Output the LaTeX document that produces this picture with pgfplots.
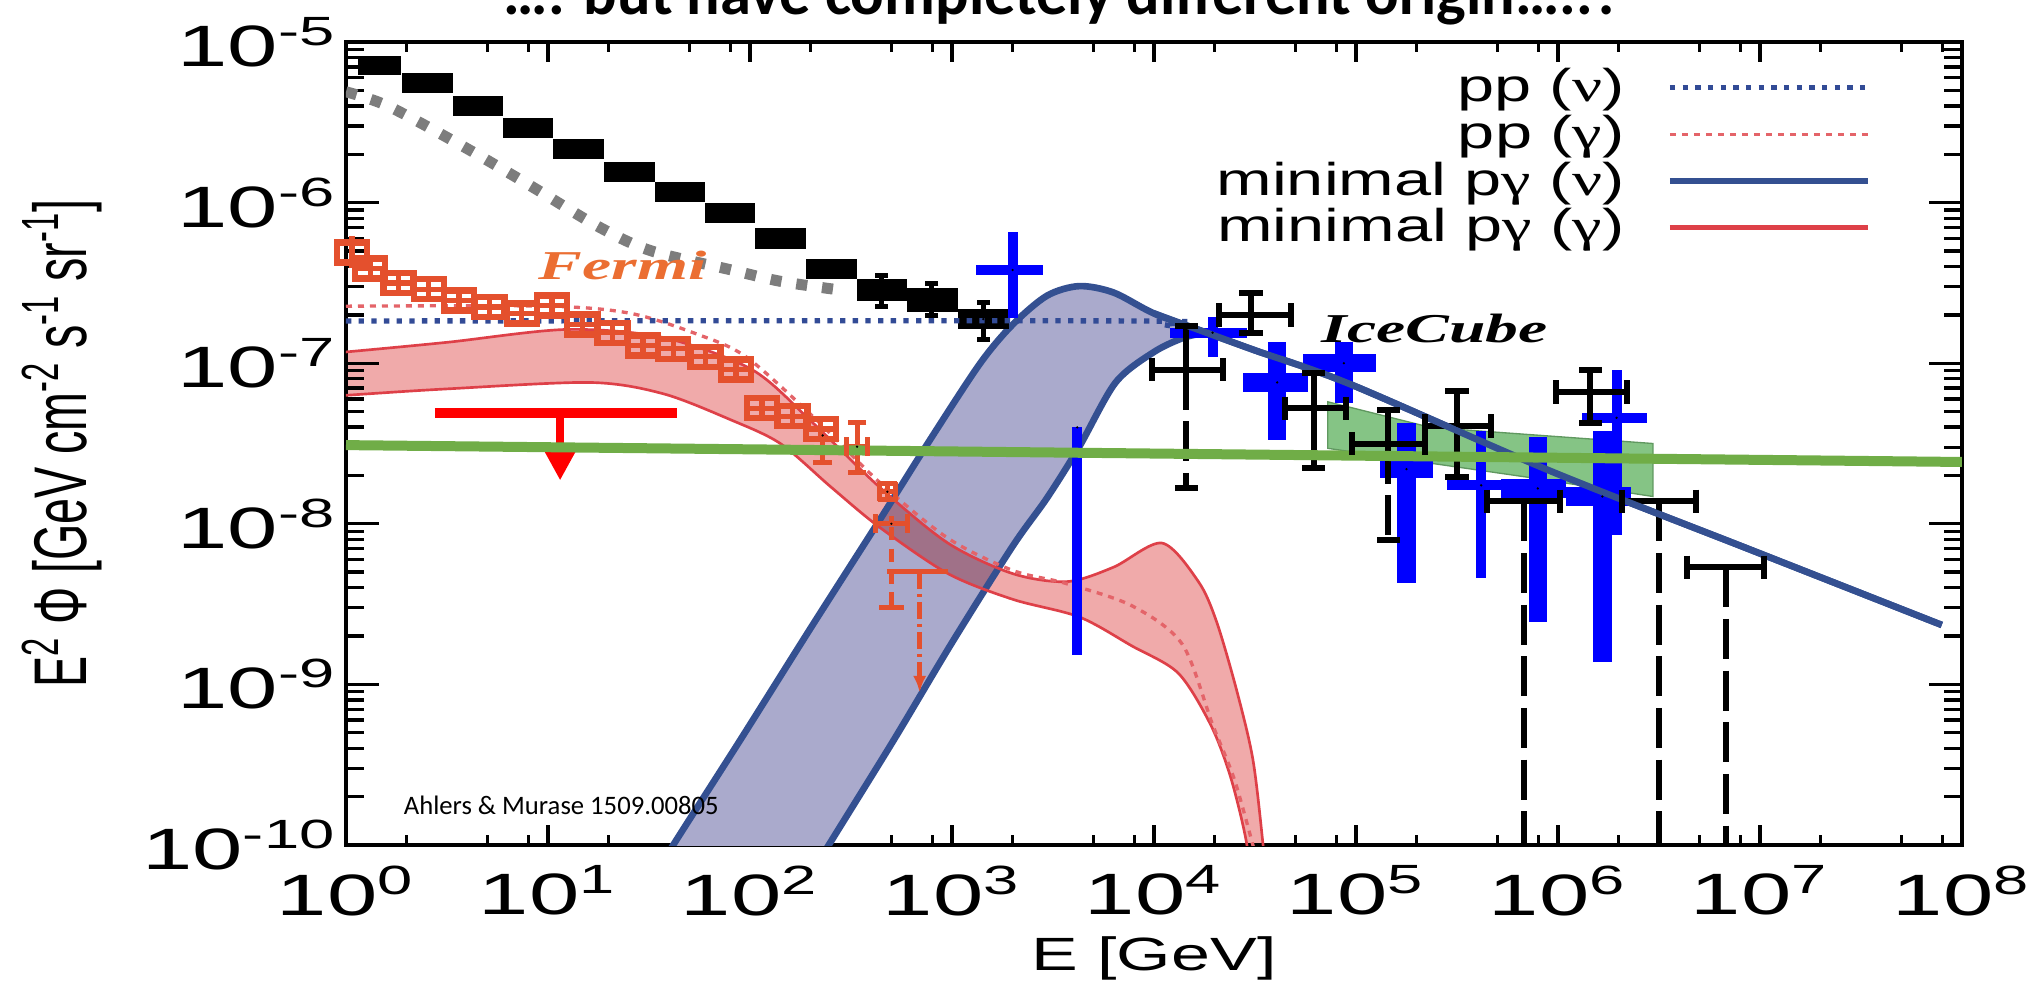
\documentclass[border=0pt]{standalone}
\usepackage{fontspec}
\setmainfont{Liberation Sans}
\newfontfamily\carlito{Carlito}
\newfontfamily\timesf{Liberation Serif}
\usepackage{graphicx}
\usepackage{pgfplots}
\pgfplotsset{compat=1.18}
\usetikzlibrary{arrows.meta}
\newcommand{\sx}[1]{\scalebox{1.6}[1]{#1}}
\newcommand{\lx}[1]{\scalebox{1.45}[1]{#1}}
\newcommand{\tx}[1]{\scalebox{1.55}[1]{10\textsuperscript{#1}}}
\newcommand{\gr}[1]{{\timesf #1}}
\definecolor{navyband}{RGB}{52,80,145}
\definecolor{bandfill}{RGB}{170,170,204}
\definecolor{redfill}{RGB}{240,170,170}
\definecolor{rededge}{RGB}{222,64,72}
\definecolor{ppgam}{RGB}{228,100,105}
\definecolor{ppnu}{RGB}{50,75,150}
\definecolor{fermiorange}{RGB}{228,80,45}
\definecolor{fermilabel}{RGB}{235,110,50}
\definecolor{officegreen}{RGB}{112,173,71}
\definecolor{icgreen}{RGB}{120,190,120}
\definecolor{dotgray}{RGB}{125,125,125}
\pgfplotsset{nomark/.style={only marks, mark=*, mark size=0.1pt, mark options={draw=none, fill=none}}}
\begin{document}
\begin{tikzpicture}
\begin{axis}[
  at={(0,0)}, anchor=south west,
  scale only axis, width=484.8pt, height=240.9pt,
  xmin=0, xmax=8, ymin=-10, ymax=-5,
  axis line style={line width=1.4pt},
  tick align=inside,
  xtick={0,1,2,3,4,5,6,7,8},
  xticklabels={\tx{0},\tx{1},\tx{2},\tx{3},\tx{4},\tx{5},\tx{6},\tx{7},\tx{8}},
  ytick={-10,-9,-8,-7,-6,-5},
  yticklabels={\tx{-10},\tx{-9},\tx{-8},\tx{-7},\tx{-6},\tx{-5}},
  minor xtick={0.301,0.699,0.903,1.301,1.699,1.903,2.301,2.699,2.903,3.301,3.699,3.903,4.301,4.699,4.903,5.301,5.699,5.903,6.301,6.699,6.903,7.301,7.699,7.903},
  minor ytick={-9.699,-9.523,-9.398,-9.301,-9.222,-9.155,-9.097,-9.046,-8.699,-8.523,-8.398,-8.301,-8.222,-8.155,-8.097,-8.046,-7.699,-7.523,-7.398,-7.301,-7.222,-7.155,-7.097,-7.046,-6.699,-6.523,-6.398,-6.301,-6.222,-6.155,-6.097,-6.046,-5.699,-5.523,-5.398,-5.301,-5.222,-5.155,-5.097,-5.046},
  tick style={black, line width=1pt},
  xtick style={/pgfplots/major tick length=6pt,/pgfplots/minor tick length=3pt},
  ytick style={/pgfplots/major tick length=10pt,/pgfplots/minor tick length=5.4pt},
  ticklabel style={font=\fontsize{17.5}{19}\selectfont},
  yticklabel style={inner sep=0pt, xshift=-2.5pt},
  xticklabel style={inner sep=0pt, yshift=-6pt},
  xlabel={\scalebox{1.5}[1]{E [GeV]}},
  xlabel style={at={(axis description cs:0.5,-0.113)}, anchor=north, inner sep=0pt, font=\fontsize{14}{16}\selectfont},
  ylabel={\scalebox{1}[1.6]{E\textsuperscript{2} Φ [GeV cm\textsuperscript{-2} s\textsuperscript{-1} sr\textsuperscript{-1}]}},
  ylabel style={at={(axis description cs:-0.1757,0.5)}, anchor=center, font=\fontsize{14}{16}\selectfont},
  legend plot pos=right,
  legend cell align=right,
  legend style={at={(axis cs:7.554,-5.149)}, anchor=north east, draw=none, fill=none, inner sep=0pt, row sep=1.3pt, column sep=12pt, nodes={inner sep=0.6pt}, font=\fontsize{13.8}{14}\selectfont},
  legend image code/.code={\draw[#1] (0pt,0pt) -- (59.4pt,0pt);},
]
% legend entries
\addlegendimage{ppnu, line width=1.6pt, dash pattern=on 1.6pt off 2.2pt}
\addlegendentry{\lx{pp (\gr{ν})}}
\addlegendimage{ppgam, line width=1pt, dash pattern=on 1.8pt off 1.8pt}
\addlegendentry{\lx{pp (\gr{γ})}}
\addlegendimage{navyband, line width=2pt}
\addlegendentry{\lx{minimal p\gr{γ} (\gr{ν})}}
\addlegendimage{rededge, line width=1.4pt}
\addlegendentry{\lx{minimal p\gr{γ} (\gr{γ})}}

% minimal p-gamma (nu) band fill
\addplot[fill=bandfill, draw=none, smooth, tension=0.5] coordinates {
 (1.45,-10.35)(1.62,-10.0)(1.95,-9.35)(2.30,-8.65)(2.64,-7.98)(2.90,-7.46)(3.14,-7.0)(3.30,-6.76)(3.47,-6.58)(3.63,-6.52)(3.80,-6.56)(4.00,-6.69)(4.26,-6.81)
 (4.15,-6.84)(4.00,-6.93)(3.81,-7.12)(3.63,-7.52)(3.47,-7.84)(3.30,-8.14)(3.00,-8.74)(2.71,-9.35)(2.39,-10.0)(2.22,-10.35)} -- cycle;
% minimal p-gamma (gamma) band fill
\addplot[fill=redfill, draw=none, smooth, tension=0.5, blend mode=multiply] coordinates {
 (-0.1,-6.94)(0,-6.93)(0.5,-6.87)(1.09,-6.79)(1.57,-6.84)(2.01,-7.04)(2.31,-7.37)(2.64,-7.77)(2.98,-8.12)(3.30,-8.31)(3.57,-8.36)(3.80,-8.27)(4.04,-8.12)(4.22,-8.36)(4.31,-8.61)(4.41,-9.04)(4.49,-9.47)(4.54,-10.0)(4.56,-10.3)
 (4.47,-10.3)(4.46,-10.0)(4.38,-9.58)(4.28,-9.25)(4.12,-8.93)(3.89,-8.76)(3.63,-8.58)(3.30,-8.47)(2.98,-8.31)(2.64,-8.02)(2.40,-7.77)(2.15,-7.50)(1.90,-7.35)(1.57,-7.19)(1.21,-7.12)(0.5,-7.16)(0,-7.20)(-0.1,-7.21)} -- cycle;
% band edges
\addplot[navyband, line width=2pt, smooth, tension=0.5] coordinates {
 (1.45,-10.35)(1.62,-10.0)(1.95,-9.35)(2.30,-8.65)(2.64,-7.98)(2.90,-7.46)(3.14,-7.0)(3.30,-6.76)(3.47,-6.58)(3.63,-6.52)(3.80,-6.56)(4.00,-6.69)(4.26,-6.81)(4.50,-6.92)(4.97,-7.13)(5.96,-7.67)(6.95,-8.16)(7.90,-8.63)};
\addplot[navyband, line width=2pt, smooth, tension=0.5] coordinates {
 (4.26,-6.81)(4.15,-6.84)(4.00,-6.93)(3.81,-7.12)(3.63,-7.52)(3.47,-7.84)(3.30,-8.14)(3.00,-8.74)(2.71,-9.35)(2.39,-10.0)(2.22,-10.35)};
\addplot[rededge, line width=0.8pt, smooth, tension=0.5] coordinates {
 (-0.1,-6.94)(0,-6.93)(0.5,-6.87)(1.09,-6.79)(1.57,-6.84)(2.01,-7.04)(2.31,-7.37)(2.64,-7.77)(2.98,-8.12)(3.30,-8.31)(3.57,-8.36)(3.80,-8.27)(4.04,-8.12)(4.22,-8.36)(4.31,-8.61)(4.41,-9.04)(4.49,-9.47)(4.54,-10.0)(4.56,-10.3)};
\addplot[rededge, line width=0.8pt, smooth, tension=0.5] coordinates {
 (4.47,-10.3)(4.46,-10.0)(4.38,-9.58)(4.28,-9.25)(4.12,-8.93)(3.89,-8.76)(3.63,-8.58)(3.30,-8.47)(2.98,-8.31)(2.64,-8.02)(2.40,-7.77)(2.15,-7.50)(1.90,-7.35)(1.57,-7.19)(1.21,-7.12)(0.5,-7.16)(0,-7.20)(-0.1,-7.21)};

% black boxes (diffuse gamma-ray data)
\addplot[fill=black, draw=none] coordinates {(0.058,-5.205)(0.274,-5.205)(0.274,-5.087)(0.058,-5.087)} -- cycle;
\addplot[fill=black, draw=none] coordinates {(0.278,-5.316)(0.530,-5.316)(0.530,-5.191)(0.278,-5.191)} -- cycle;
\addplot[fill=black, draw=none] coordinates {(0.530,-5.459)(0.778,-5.459)(0.778,-5.334)(0.530,-5.334)} -- cycle;
\addplot[fill=black, draw=none] coordinates {(0.778,-5.600)(1.026,-5.600)(1.026,-5.475)(0.778,-5.475)} -- cycle;
\addplot[fill=black, draw=none] coordinates {(1.026,-5.731)(1.277,-5.731)(1.277,-5.606)(1.026,-5.606)} -- cycle;
\addplot[fill=black, draw=none] coordinates {(1.277,-5.870)(1.528,-5.870)(1.528,-5.745)(1.277,-5.745)} -- cycle;
\addplot[fill=black, draw=none] coordinates {(1.528,-5.998)(1.777,-5.998)(1.777,-5.874)(1.528,-5.874)} -- cycle;
\addplot[fill=black, draw=none] coordinates {(1.777,-6.129)(2.025,-6.129)(2.025,-6.004)(1.777,-6.004)} -- cycle;
\addplot[fill=black, draw=none] coordinates {(2.025,-6.289)(2.277,-6.289)(2.277,-6.160)(2.025,-6.160)} -- cycle;
\addplot[fill=black, draw=none] coordinates {(2.277,-6.478)(2.530,-6.478)(2.530,-6.351)(2.277,-6.351)} -- cycle;
\addplot[fill=black, draw=none] coordinates {(2.530,-6.613)(2.777,-6.613)(2.777,-6.478)(2.530,-6.478)} -- cycle;
\addplot[fill=black, draw=none] coordinates {(2.777,-6.679)(3.030,-6.679)(3.030,-6.532)(2.777,-6.532)} -- cycle;
\addplot[fill=black, draw=none] coordinates {(3.030,-6.790)(3.280,-6.790)(3.280,-6.660)(3.030,-6.660)} -- cycle;
\addplot[nomark, error bars/.cd, y dir=both, y explicit, error mark=none, error bar style={line width=1.5pt, draw=black}] coordinates {
 (2.65,-6.545) += (0,0.09) -= (0,0.10)
 (2.90,-6.605) += (0,0.10) -= (0,0.10)
 (3.155,-6.725) += (0,0.10) -= (0,0.13)};
\addplot[only marks, mark=-, mark size=2pt, mark options={line width=1.5pt, draw=black}] coordinates {
 (2.65,-6.455)(2.65,-6.645)(2.90,-6.505)(2.90,-6.705)(3.155,-6.625)(3.155,-6.855)};

% gray dotted line
\addplot[dotgray, line width=3.3pt, dash pattern=on 3.3pt off 4.5pt, smooth] coordinates {
 (0,-5.31)(0.21,-5.40)(0.58,-5.65)(0.92,-5.90)(1.25,-6.15)(1.51,-6.30)(1.91,-6.42)(2.15,-6.49)(2.42,-6.54)};

% pp (gamma) and pp (nu)
\addplot[ppgam, line width=1pt, dash pattern=on 1.8pt off 1.8pt, smooth, tension=0.5] coordinates {
 (0,-6.645)(1.0,-6.645)(1.41,-6.69)(1.74,-6.82)(1.98,-6.96)(2.31,-7.33)(2.64,-7.74)(2.98,-8.09)(3.30,-8.29)(3.56,-8.37)(3.89,-8.51)(4.14,-8.75)(4.29,-9.25)(4.40,-9.6)(4.50,-10.05)};
\addplot[ppnu, line width=1.6pt, dash pattern=on 1.6pt off 2.2pt, smooth, tension=0.5] coordinates {
 (0,-6.737)(3.90,-6.737)(4.05,-6.76)(4.20,-6.80)(4.30,-6.83)};

% Fermi data
\addplot[only marks, mark=square, mark size=3pt, mark options={xscale=1.5, line width=1.9pt, fermiorange, fill=white}, error bars/.cd, x dir=both, y dir=both, x fixed=0.074, y fixed=0.062, error mark=none, error bar style={line width=1.6pt, draw=fermiorange}] coordinates {
 (0.12,-6.41)(0.26,-6.50)(0.41,-6.54)(0.56,-6.61)(0.71,-6.65)(0.87,-6.69)(1.02,-6.64)(1.17,-6.76)(1.32,-6.81)(1.47,-6.89)(1.62,-6.91)(1.78,-6.96)(1.93,-7.04)(2.06,-7.28)(2.21,-7.33)(2.35,-7.41)};
\addplot[only marks, mark=square, mark size=3pt, mark options={xscale=1.5, line width=1.9pt, fermiorange, fill=white}, error bars/.cd, y dir=both, y fixed=0.10, error mark=none, error bar style={line width=1.6pt, draw=fermiorange}] coordinates {(0.03,-6.31)};
\addplot[nomark, error bars/.cd, x dir=both, x explicit, y dir=both, y explicit, error mark=none, error bar style={line width=1.5pt, draw=fermiorange}] coordinates {
 (2.36,-7.45) += (0,0) -= (0,0.17)
 (2.53,-7.52) += (0.05,0.15) -= (0.05,0.16)
 (2.68,-7.80) += (0.04,0.05) -= (0.04,0.05)
 (2.70,-8.00) += (0.08,0.05) -= (0.08,0.0)};
\addplot[only marks, mark=-, mark size=2.8pt, mark options={line width=1.5pt, draw=fermiorange}] coordinates {
 (2.36,-7.62)(2.53,-7.37)(2.53,-7.68)(2.68,-7.75)(2.68,-7.85)};
\addplot[only marks, mark=|, mark size=2.8pt, mark options={line width=1.5pt, draw=fermiorange}] coordinates {
 (2.58,-7.52)(2.48,-7.52)(2.72,-7.80)(2.64,-7.80)(2.78,-8.00)(2.62,-8.00)};
\addplot[fermiorange, line width=1.5pt, dash pattern=on 4pt off 2.5pt] coordinates {(2.70,-8.02)(2.70,-8.52)};
\addplot[fermiorange, line width=1.5pt] coordinates {(2.64,-8.52)(2.76,-8.52)};
\addplot[fermiorange, line width=1.5pt] coordinates {(2.68,-8.30)(2.98,-8.30)};
\addplot[fermiorange, line width=1.5pt, dash pattern=on 5pt off 1.5pt on 1pt off 1.5pt, -{Latex[length=5pt,width=4pt]}] coordinates {(2.84,-8.30)(2.84,-9.05)};

% red upper limit
\addplot[red, line width=2.8pt] coordinates {(0.44,-7.31)(1.64,-7.31)};
\addplot[red, line width=2.4pt, -{Triangle[width=9pt,length=9pt]}] coordinates {(1.06,-7.31)(1.06,-7.73)};

% IceCube fit band
\addplot[fill=icgreen, fill opacity=0.9, draw=icgreen!80!black, line width=0.4pt] coordinates {
 (4.86,-7.24)(5.37,-7.40)(6.47,-7.50)(6.47,-7.83)(5.85,-7.71)(4.86,-7.53)} -- cycle;

% IceCube blue data (thin)
\addplot[nomark, error bars/.cd, x dir=both, x explicit, y dir=both, y explicit, error mark=none, error bar style={line width=3pt, draw=blue}] coordinates {
 (3.30,-6.42) += (0.15,0.24) -= (0.18,0.30)
 (3.62,-7.40) += (0,0) -= (0,1.42)
 (4.29,-6.81) += (0.17,0.10) -= (0.21,0.15)
 (5.62,-7.76) += (0.11,0.34) -= (0.17,0.58)
 (6.29,-7.34) += (0.15,0.30) -= (0.17,0.73)};
% IceCube blue data (thick)
\addplot[nomark, error bars/.cd, x dir=both, x explicit, y dir=both, y explicit, error mark=none, error bar style={line width=5.5pt, draw=blue}] coordinates {
 (4.61,-7.12) += (0.15,0.25) -= (0.17,0.36)
 (4.94,-7.00) += (0.16,0.13) -= (0.20,0.25)
 (5.25,-7.66) += (0.13,0.29) -= (0.13,0.71)
 (5.90,-7.78) += (0.14,0.32) -= (0.18,0.83)
 (6.22,-7.83) += (0.14,0.41) -= (0.18,1.03)};

% IceCube black data
\addplot[nomark, error bars/.cd, x dir=both, x explicit, y dir=both, y explicit, error mark=none, error bar style={line width=1.8pt, draw=black}] coordinates {
 (4.48,-6.70) += (0.20,0.14) -= (0.16,0.11)
 (4.79,-7.28) += (0.16,0.22) -= (0.14,0.37)
 (5.50,-7.39) += (0.17,0.22) -= (0.16,0.32)
 (6.16,-7.18) += (0.18,0.14) -= (0.17,0.19)};
\addplot[nomark, error bars/.cd, x dir=both, x explicit, y dir=plus, y explicit, error mark=none, error bar style={line width=1.8pt, draw=black}] coordinates {
 (4.16,-7.04) += (0.18,0.27) -= (0.17,0)
 (5.16,-7.50) += (0.18,0.21) -= (0.18,0)};
\addplot[black, line width=1.8pt, dash pattern=on 12pt off 3.5pt, unbounded coords=jump] coordinates {
 (4.16,-7.04)(4.16,-7.78)(4.16,nan)(5.16,-7.50)(5.16,-8.10)};
% IceCube upper limits
\addplot[nomark, error bars/.cd, x dir=both, x explicit, error mark=none, error bar style={line width=1.8pt, draw=black}] coordinates {
 (5.83,-7.86) +- (0.18,0)
 (6.50,-7.86) +- (0.185,0)
 (6.83,-8.27) +- (0.19,0)};
\addplot[black, line width=1.8pt, dash pattern=on 12pt off 3.5pt, unbounded coords=jump] coordinates {
 (5.83,-7.86)(5.83,-10.1)(5.83,nan)(6.50,-7.86)(6.50,-10.1)(6.50,nan)(6.83,-8.27)(6.83,-10.1)};
% caps of the black IceCube error bars
\addplot[only marks, mark=-, mark size=3.5pt, mark options={line width=1.8pt, draw=black}] coordinates {
 (4.48,-6.56)(4.48,-6.81)(4.79,-7.06)(4.79,-7.65)(5.50,-7.17)(5.50,-7.71)(6.16,-7.04)(6.16,-7.37)(4.16,-6.77)(5.16,-7.29)(4.16,-7.78)(5.16,-8.10)};
\addplot[only marks, mark=|, mark size=3.5pt, mark options={line width=1.8pt, draw=black}] coordinates {
 (4.68,-6.70)(4.32,-6.70)(4.95,-7.28)(4.65,-7.28)(5.67,-7.39)(5.34,-7.39)(6.34,-7.18)(5.99,-7.18)(4.34,-7.04)(3.99,-7.04)(5.34,-7.50)(4.98,-7.50)(6.01,-7.86)(5.65,-7.86)(6.685,-7.86)(6.315,-7.86)(7.02,-8.27)(6.64,-8.27)};

% descending minimal p-gamma (nu) line on top
\addplot[navyband, line width=2pt, smooth, tension=0.5] coordinates {
 (4.00,-6.69)(4.26,-6.81)(4.50,-6.92)(4.97,-7.13)(5.96,-7.67)(6.95,-8.16)(7.90,-8.63)};

% green line
\addplot[officegreen, line width=3pt] coordinates {(0,-7.51)(8,-7.615)};

% labels
\node[anchor=base, text=fermilabel, font=\timesf\bfseries\itshape\fontsize{12.3}{14}\selectfont] at (axis cs:1.37,-6.48) {\sx{Fermi}};
\node[anchor=base, text=black, font=\timesf\bfseries\itshape\fontsize{12.3}{14}\selectfont] at (axis cs:5.39,-6.87) {\sx{IceCube}};
\node[anchor=base west, font=\carlito\fontsize{8}{9}\selectfont] at (axis cs:0.228,-9.813) {Ahlers \& Murase 1509.00805};
\end{axis}
\node[anchor=base] at (215.1pt,249pt) {\resizebox{335.4pt}{!}{\carlito\bfseries …. but have completely different origin…..?}};
\pgfresetboundingbox
\useasboundingbox (-103.8pt,-44.1pt) rectangle (506.1pt,253.5pt);
\end{tikzpicture}
\end{document}
